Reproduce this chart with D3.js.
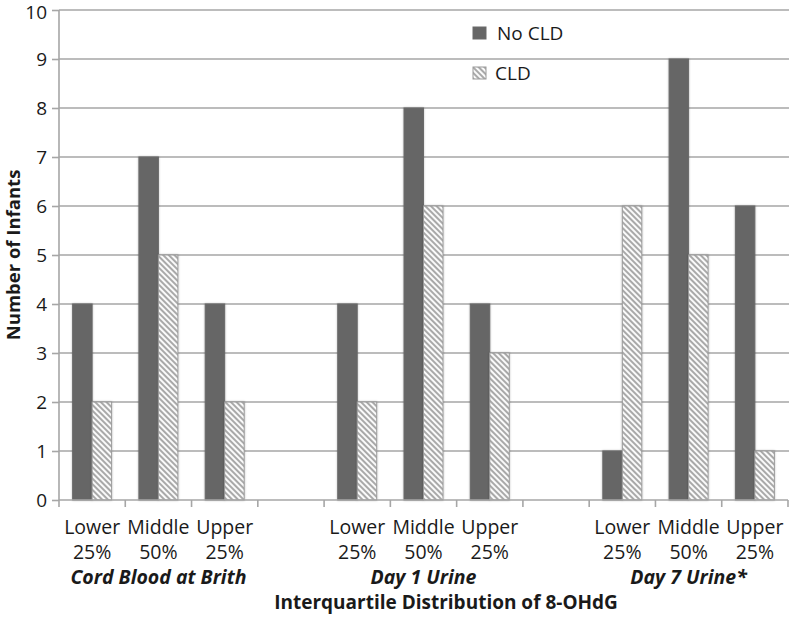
<!DOCTYPE html>
<html><head><meta charset="utf-8">
<script src="https://cdn.jsdelivr.net/npm/d3@7"></script>
<style>body{margin:0;background:#fff}svg{display:block}text{font-family:"Open Sans","Noto Sans",sans-serif;fill:#1a1a1a}</style>
</head><body>
<svg id="c" width="789" height="627"></svg>
<script>
const categories = ["Lower|25%","Middle|50%","Upper|25%","gap1","Lower|25%","Middle|50%","Upper|25%","gap2","Lower|25%","Middle|50%","Upper|25%"];
const noCLD = [4,7,4,null,4,8,4,null,1,9,6];
const cld   = [2,5,2,null,2,6,3,null,6,5,1];
const series = ["No CLD","CLD"];
const groups = [{name:"Cord Blood at Brith",cats:[0,2]},{name:"Day 1 Urine",cats:[4,6]},{name:"Day 7 Urine*",cats:[8,10]}];
const yTicks = [0,1,2,3,4,5,6,7,8,9,10];

const svg = d3.select("#c");
const L=59, R=788, T=10, B=500;
const x = d3.scaleBand().domain(d3.range(categories.length)).range([L,R]).paddingInner(0).paddingOuter(0);
const y = d3.scaleLinear().domain([0,10]).range([B,T]);

const defs = svg.append("defs");
const pat = defs.append("pattern").attr("id","hatch").attr("patternUnits","userSpaceOnUse")
  .attr("width",4).attr("height",4).attr("patternTransform","rotate(45)");
pat.append("rect").attr("width",4).attr("height",4).attr("fill","#fafafa");
pat.append("rect").attr("width",4).attr("height",2).attr("fill","#a9a9a9");
const f = defs.append("filter").attr("id","sh").attr("x","-20%").attr("y","-5%").attr("width","140%").attr("height","110%");
f.append("feGaussianBlur").attr("in","SourceAlpha").attr("stdDeviation",1.2).attr("result","b");
f.append("feComponentTransfer").attr("in","b").attr("result","o2").append("feFuncA").attr("type","linear").attr("slope",0.25);
const m = f.append("feMerge"); m.append("feMergeNode").attr("in","o2"); m.append("feMergeNode").attr("in","SourceGraphic");

// gridlines
svg.append("g").selectAll("line").data(yTicks.filter(d=>d>0)).join("line")
  .attr("x1",L).attr("x2",789).attr("y1",d=>y(d)).attr("y2",d=>y(d))
  .attr("stroke","#a6a6a6").attr("stroke-width",1.6);

// bars
const bw = 19.5;
const sub = d3.scaleBand().domain(series).range([0,2*bw]);
const off = (x.bandwidth()-2*bw)/2;
const data = [];
categories.forEach((c,i)=>{ if(noCLD[i]!=null){ data.push({i,s:"No CLD",v:noCLD[i]}); data.push({i,s:"CLD",v:cld[i]}); }});
svg.append("g").selectAll("rect").data(data).join("rect")
  .attr("x",d=>x(d.i)+off+sub(d.s)).attr("width",sub.bandwidth())
  .attr("y",d=>y(d.v)).attr("height",d=>B-y(d.v))
  .attr("fill",d=>d.s==="No CLD"?"#666666":"url(#hatch)")
  .attr("stroke",d=>d.s==="No CLD"?"#6a6a6a":"#9a9a9a").attr("stroke-width",1)
  .attr("filter","url(#sh)");

// y axis
const ya = svg.append("g").attr("transform",`translate(${L},0)`)
  .call(d3.axisLeft(y).tickValues(yTicks).tickSize(7).tickPadding(5).tickFormat(d3.format("d")));
ya.select(".domain").attr("stroke","#a6a6a6").attr("stroke-width",1.6).attr("d",`M0,${T}V${B}`);
ya.selectAll(".tick line").attr("stroke","#a6a6a6").attr("stroke-width",1.6);
ya.selectAll(".tick text").attr("font-size",19).attr("fill","#1a1a1a").attr("font-family","'Open Sans',sans-serif");
ya.selectAll(".tick").filter(d=>d===10).select("text").attr("dy","0.38em").attr("y",1);

// x axis
const xa = svg.append("g").attr("transform",`translate(0,${B})`);
xa.append("line").attr("x1",L).attr("x2",R).attr("stroke","#a6a6a6").attr("stroke-width",1.6);
xa.selectAll("line.t").data(d3.range(categories.length+1)).join("line").attr("class","t")
  .attr("x1",d=>L+d*x.bandwidth()).attr("x2",d=>L+d*x.bandwidth()).attr("y1",0).attr("y2",7)
  .attr("stroke","#a6a6a6").attr("stroke-width",1.6);
categories.forEach((c,i)=>{
  if(c.startsWith("gap")) return;
  const [a,b]=c.split("|");
  const t = svg.append("text").attr("x",x(i)+x.bandwidth()/2).attr("text-anchor","middle").attr("font-size",19.5);
  t.append("tspan").attr("x",x(i)+x.bandwidth()/2).attr("y",534).text(a);
  t.append("tspan").attr("x",x(i)+x.bandwidth()/2).attr("y",559).text(b);
});
groups.forEach(g=>{
  const cx = (x(g.cats[0])+x(g.cats[1])+x.bandwidth())/2;
  svg.append("text").attr("x",cx).attr("y",584).attr("text-anchor","middle")
    .attr("font-size",19.5).attr("font-weight","bold").attr("font-style","italic").text(g.name);
});
svg.append("text").attr("x",446).attr("y",609).attr("text-anchor","middle")
  .attr("font-size",19).attr("font-weight","bold").text("Interquartile Distribution of 8-OHdG");
svg.append("text").attr("transform",`translate(20,255) rotate(-90)`).attr("text-anchor","middle")
  .attr("font-size",18.5).attr("font-weight","bold").text("Number of Infants");

// legend
const leg = svg.append("g");
[{s:"No CLD",y:27},{s:"CLD",y:67}].forEach(d=>{
  leg.append("rect").attr("x",473).attr("y",d.y).attr("width",13).attr("height",12)
    .attr("fill",d.s==="No CLD"?"#666666":"url(#hatch)").attr("stroke",d.s==="No CLD"?"#6a6a6a":"#9a9a9a");
  leg.append("text").attr("x",d.s==="No CLD"?497:495).attr("y",d.y+13).attr("font-size",19).text(d.s);
});
</script>
</body></html>
